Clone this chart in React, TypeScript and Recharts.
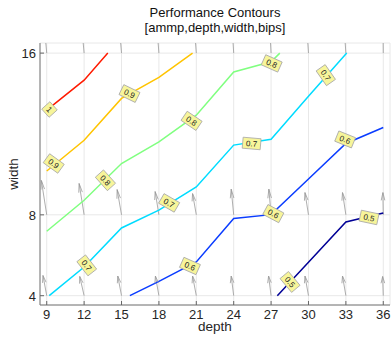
import React from 'react';
import { ComposedChart, Line, Scatter, XAxis, YAxis, CartesianGrid } from 'recharts';

const depthTicks = [9, 12, 15, 18, 21, 24, 27, 30, 33, 36];
const widthTicks = [4, 8, 16];

const level10 = [{ d: 9, w: 13.18 }, { d: 12, w: 14.66 }, { d: 13.9, w: 16 }];
const level09 = [{ d: 9, w: 10.17 }, { d: 12, w: 11.69 }, { d: 15, w: 13.76 }, { d: 18, w: 14.8 }, { d: 20.7, w: 16 }];
const level08 = [{ d: 9, w: 7.19 }, { d: 12, w: 8.72 }, { d: 15, w: 10.54 }, { d: 18, w: 11.61 }, { d: 21, w: 12.93 }, { d: 24, w: 15.07 }, { d: 27, w: 15.57 }, { d: 27.7, w: 16 }];
const level07 = [{ d: 9.2, w: 4 }, { d: 12, w: 5.42 }, { d: 15, w: 7.35 }, { d: 18, w: 8.23 }, { d: 21, w: 9.38 }, { d: 24, w: 11.45 }, { d: 27, w: 11.74 }, { d: 30, w: 13.87 }, { d: 33.07, w: 16 }];
const level06 = [{ d: 15.67, w: 4 }, { d: 18, w: 4.71 }, { d: 21, w: 5.67 }, { d: 24, w: 7.82 }, { d: 27, w: 8.01 }, { d: 30, w: 9.77 }, { d: 33, w: 11.53 }, { d: 36, w: 12.32 }];
const level05 = [{ d: 27.5, w: 4 }, { d: 30, w: 5.66 }, { d: 33, w: 7.65 }, { d: 36, w: 8.09 }];

const contourLabels = [
  { d: 9.22, w: 13.21, text: '1', angle: 48 },
  { d: 9.56, w: 10.54, text: '0.9', angle: 36 },
  { d: 15.64, w: 14.0, text: '0.9', angle: 26 },
  { d: 13.71, w: 9.71, text: '0.8', angle: 48 },
  { d: 20.62, w: 12.65, text: '0.8', angle: 34 },
  { d: 27.05, w: 15.49, text: '0.8', angle: 24 },
  { d: 12.21, w: 5.5, text: '0.7', angle: 52 },
  { d: 18.82, w: 8.59, text: '0.7', angle: 30 },
  { d: 25.44, w: 11.53, text: '0.7', angle: 5 },
  { d: 31.39, w: 14.91, text: '0.7', angle: 55 },
  { d: 20.49, w: 5.47, text: '0.6', angle: 24 },
  { d: 27.18, w: 8.06, text: '0.6', angle: 28 },
  { d: 32.94, w: 11.73, text: '0.6', angle: 22 },
  { d: 28.52, w: 4.68, text: '0.5', angle: 50 },
  { d: 34.86, w: 7.87, text: '0.5', angle: 12 },
];

// quiver arrows: base rows at width 4, 8, 16
const arrowRows = [4, 8, 16];
const arrowDx = [
  [-0.3, -0.35, -0.3, -0.28, -0.3, -0.2, -0.2, -0.28, -0.27, -0.05],
  [-0.43, -0.4, -0.35, -0.3, -0.3, -0.2, -0.18, -0.28, -0.27, -0.03],
  [-0.3, -0.3, -0.28, -0.25, -0.25, -0.2, -0.18, -0.22, -0.22, -0.03],
];
const arrowDy = [
  [1.0, 0.95, 0.97, 0.97, 0.97, 0.97, 0.97, 0.97, 0.97, 0.95],
  [1.7, 1.55, 1.25, 1.15, 1.05, 1.27, 1.27, 1.1, 1.1, 1.1],
  [2.0, 2.0, 2.0, 2.0, 2.0, 2.0, 2.0, 2.0, 2.0, 2.0],
];

const arrowData: any[] = [];
arrowRows.forEach((w, r) => {
  depthTicks.forEach((d, c) => {
    arrowData.push({ d, w });
    arrowData.push({ d: d + arrowDx[r][c], w: w + arrowDy[r][c], tip: true });
    arrowData.push({ d: d + arrowDx[r][c], w: null });
  });
});

const FONT = '"Liberation Sans", Arial, Helvetica, sans-serif';

const ArrowHead = (props: any) => {
  const { cx, cy, index, points, payload } = props;
  if (!payload || !payload.tip || cx == null || cy == null || !points || !points[index - 1]) return <g key={`ah-${index}`} />;
  const p0 = points[index - 1];
  const vx = cx - p0.x;
  const vy = cy - p0.y;
  const len = Math.sqrt(vx * vx + vy * vy) || 1;
  const ux = vx / len;
  const uy = vy / len;
  const hl = Math.min(9, len * 0.35);
  const hw = 1.8;
  const bx = cx - ux * hl;
  const by = cy - uy * hl;
  const lx = bx - uy * hw;
  const ly = by + ux * hw;
  const rx = bx + uy * hw;
  const ry = by - ux * hw;
  return (
    <path
      key={`ah-${index}`}
      d={`M${lx},${ly}L${cx},${cy}L${rx},${ry}`}
      fill="none"
      stroke="#999"
      strokeWidth={0.8}
    />
  );
};

const LabelShape = (props: any) => {
  const { cx, cy, payload } = props;
  const t = payload.text;
  const w = t.length === 1 ? 11 : 18;
  const h = 11;
  return (
    <g transform={`translate(${cx},${cy}) rotate(${payload.angle})`}>
      <rect x={-w / 2} y={-h / 2} width={w} height={h} fill="#f7f59a" stroke="#a8a8a8" strokeWidth={0.8} />
      <text x={0} y={3} textAnchor="middle" fontSize={8} fontFamily={FONT} fill="#222">{t}</text>
    </g>
  );
};

const XTick = (props: any) => {
  const { x, y, payload } = props;
  return (
    <g>
      <line x1={x} y1={y} x2={x} y2={y - 4} stroke="#666" />
      <text x={x} y={y + 14} textAnchor="middle" fontSize={13} fontFamily={FONT} fill="#262626">{payload.value}</text>
    </g>
  );
};

const YTick = (props: any) => {
  const { x, y, payload } = props;
  return (
    <g>
      <line x1={x} y1={y} x2={x + 4} y2={y} stroke="#666" />
      <text x={x - 4} y={y + 5} textAnchor="end" fontSize={13} fontFamily={FONT} fill="#262626">{payload.value}</text>
    </g>
  );
};

const RightTick = (props: any) => {
  const { x, y } = props;
  return <line x1={x} y1={y} x2={x - 4} y2={y} stroke="#666" />;
};

const TopTick = (props: any) => {
  const { x, y } = props;
  return <line x1={x} y1={y} x2={x} y2={y + 4} stroke="#666" />;
};

const contours = [
  { data: level10, color: '#ff1a00' },
  { data: level09, color: '#ffc400' },
  { data: level08, color: '#80ff80' },
  { data: level07, color: '#00dcff' },
  { data: level06, color: '#0a3cff' },
  { data: level05, color: '#000096' },
];

export default function App() {
  return (
    <div style={{ position: 'absolute', left: 0, top: 0, width: 392, height: 337, background: '#fff' }}>
      <ComposedChart width={392} height={337} margin={{ top: 43, right: 2, bottom: 0, left: 0 }}>
        <CartesianGrid stroke="#e8e8e8" />
        <XAxis
          type="number"
          dataKey="d"
          domain={[8.46, 36.54]}
          ticks={depthTicks}
          allowDataOverflow
          height={32}
          tickLine={false}
          tickSize={0}
          tickMargin={0}
          axisLine={{ stroke: '#777' }}
          tick={<XTick />}
        />
        <XAxis
          xAxisId="top"
          orientation="top"
          type="number"
          domain={[8.46, 36.54]}
          ticks={depthTicks}
          allowDataOverflow
          height={0}
          tickLine={false}
          tickSize={0}
          tickMargin={0}
          axisLine={{ stroke: '#777' }}
          tick={<TopTick />}
        />
        <YAxis
          type="number"
          domain={[3.54, 16.5]}
          ticks={widthTicks}
          allowDataOverflow
          width={40}
          tickLine={false}
          tickSize={0}
          tickMargin={0}
          axisLine={{ stroke: '#777' }}
          tick={<YTick />}
        />
        <YAxis
          yAxisId="right"
          orientation="right"
          type="number"
          domain={[3.54, 16.5]}
          ticks={widthTicks}
          allowDataOverflow
          width={0}
          tickLine={false}
          tickSize={0}
          tickMargin={0}
          axisLine={{ stroke: '#777' }}
          tick={<RightTick />}
        />
        <Line
          data={arrowData}
          dataKey="w"
          stroke="#999"
          strokeWidth={0.8}
          dot={<ArrowHead />}
          activeDot={false}
          connectNulls={false}
          isAnimationActive={false}
          legendType="none"
        />
        {contours.map((c, i) => (
          <Line
            key={i}
            data={c.data}
            dataKey="w"
            type="linear"
            stroke={c.color}
            strokeWidth={1.5}
            dot={false}
            activeDot={false}
            isAnimationActive={false}
          />
        ))}
        <Scatter data={contourLabels} dataKey="w" shape={<LabelShape />} isAnimationActive={false} />
      </ComposedChart>
      <svg width={392} height={337} style={{ position: 'absolute', left: 0, top: 0, pointerEvents: 'none' }}>
        <text x={215} y={17} textAnchor="middle" fontSize={13} fontFamily={FONT} fill="#111">Performance Contours</text>
        <text x={215} y={32} textAnchor="middle" fontSize={13} fontFamily={FONT} fill="#111">[ammp,depth,width,bips]</text>
        <text x={215} y={331} textAnchor="middle" fontSize={13.5} fontFamily={FONT} fill="#262626">depth</text>
        <text x={18} y={174} textAnchor="middle" fontSize={13.5} fontFamily={FONT} fill="#262626" transform="rotate(-90 18 174)">width</text>
      </svg>
    </div>
  );
}
